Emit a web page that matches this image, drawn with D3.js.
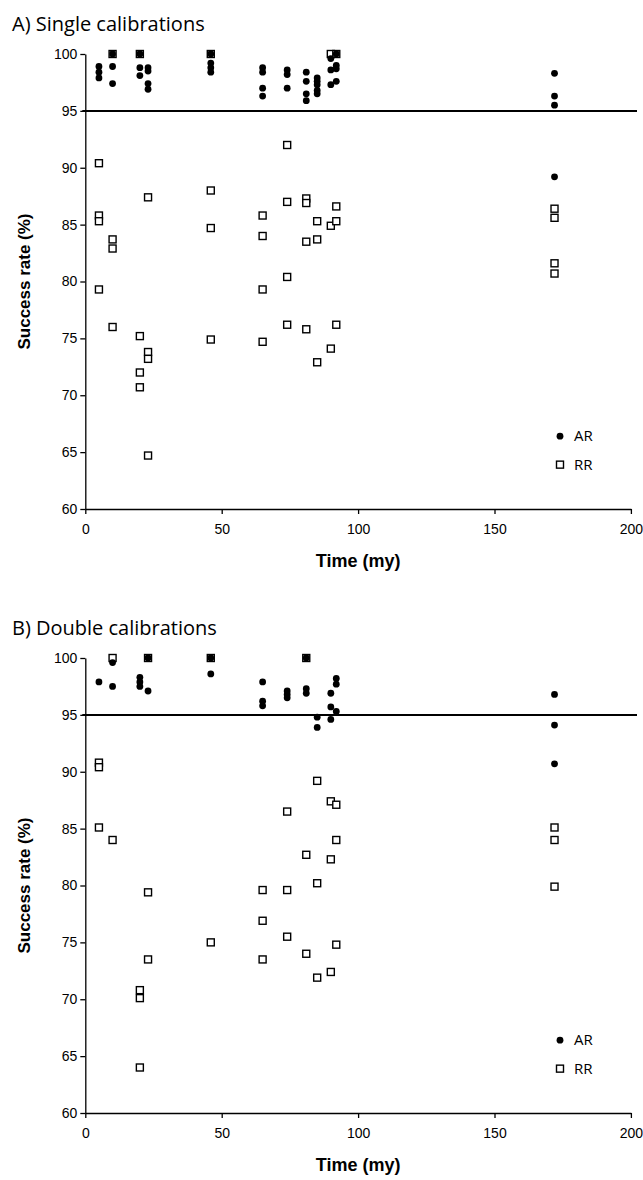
<!DOCTYPE html>
<html><head><meta charset="utf-8">
<script src="https://cdn.jsdelivr.net/npm/d3@7"></script>
<style>
html,body{margin:0;padding:0;background:#fff;}
svg{display:block;}
</style></head>
<body><svg id="chart" width="643" height="1180"></svg>
<script>
// ---- data: [time (my), success rate (%)] ----
const singleAR = [
  [5,98.9],[5,98.4],[5,97.9],
  [10,100],[10,98.9],[10,97.4],
  [20,100],[20,98.8],[20,98.1],
  [23,98.8],[23,98.5],[23,97.4],[23,96.9],
  [46,100],[46,99.2],[46,98.8],[46,98.4],
  [65,98.8],[65,98.4],[65,97.0],[65,96.3],
  [74,98.6],[74,98.2],[74,97.0],
  [81,98.4],[81,97.6],[81,96.5],[81,95.9],
  [85,97.9],[85,97.6],[85,97.3],[85,96.8],[85,96.5],
  [90,99.6],[90,98.6],[90,97.3],
  [92,100],[92,99.0],[92,98.7],[92,97.6],
  [172,98.3],[172,96.3],[172,95.5],[172,89.2]
];
const singleRR = [
  [5,90.4],[5,85.8],[5,85.3],[5,79.3],
  [10,100],[10,83.7],[10,82.9],[10,76.0],
  [20,100],[20,75.2],[20,72.0],[20,70.7],
  [23,87.4],[23,73.8],[23,73.2],[23,64.7],
  [46,100],[46,88.0],[46,84.7],[46,74.9],
  [65,85.8],[65,84.0],[65,79.3],[65,74.7],
  [74,92.0],[74,87.0],[74,80.4],[74,76.2],
  [81,87.3],[81,86.9],[81,83.5],[81,75.8],
  [85,85.3],[85,83.7],[85,72.9],
  [90,100],[90,84.9],[90,74.1],
  [92,100],[92,86.6],[92,85.3],[92,76.2],
  [172,86.4],[172,85.6],[172,81.6],[172,80.7]
];
const doubleAR = [
  [5,97.9],
  [10,99.6],[10,97.5],
  [20,98.3],[20,97.9],[20,97.5],
  [23,100],[23,97.1],
  [46,100],[46,98.6],
  [65,97.9],[65,96.2],[65,95.8],
  [74,97.1],[74,96.8],[74,96.5],
  [81,100],[81,97.3],[81,96.9],
  [85,94.8],[85,93.9],
  [90,96.9],[90,95.7],[90,94.6],
  [92,98.2],[92,97.7],[92,95.3],
  [172,96.8],[172,94.1],[172,90.7]
];
const doubleRR = [
  [5,90.8],[5,90.4],[5,85.1],
  [10,100],[10,84.0],
  [20,70.8],[20,70.1],[20,64.0],
  [23,100],[23,79.4],[23,73.5],
  [46,100],[46,75.0],
  [65,79.6],[65,76.9],[65,73.5],
  [74,86.5],[74,79.6],[74,75.5],
  [81,100],[81,82.7],[81,74.0],
  [85,89.2],[85,80.2],[85,71.9],
  [90,87.4],[90,82.3],[90,72.4],
  [92,87.1],[92,84.0],[92,74.8],
  [172,85.1],[172,84.0],[172,79.9]
];
const yTicks = [60,65,70,75,80,85,90,95,100];
const xTicks = [0,50,100,150,200];
const threshold = 95;
const panelTitles = ["A) Single calibrations","B) Double calibrations"];
const legendLabels = ["AR","RR"];
const xTitle = "Time (my)";
const yTitle = "Success rate (%)";

const svg = d3.select("#chart");
const x = d3.scaleLinear().domain([0,200]).range([85.3,630.9]);

function panel(off, title, ar, rr) {
  const g = svg.append("g").attr("transform",`translate(0,${off})`);
  const y = d3.scaleLinear().domain([60,100]).range([509,54]);

  g.append("text").attr("x",12).attr("y",31)
    .attr("font-family","'Open Sans', sans-serif").attr("font-size",20)
    .attr("fill","#000").text(title);

  const ya = g.append("g").attr("transform",`translate(${x(0)},0)`)
    .call(d3.axisLeft(y).tickValues(yTicks).tickSize(5).tickSizeOuter(0).tickPadding(3));
  ya.selectAll("text").attr("font-family","'Liberation Sans', Arial, sans-serif").attr("font-size",14).attr("fill","#000");
  ya.selectAll("line,path").attr("stroke","#000").attr("stroke-width",1.3);

  const xa = g.append("g").attr("transform",`translate(0,${y(60)})`)
    .call(d3.axisBottom(x).tickValues(xTicks).tickSize(5).tickSizeOuter(0).tickPadding(10));
  xa.selectAll("text").attr("font-family","'Liberation Sans', Arial, sans-serif").attr("font-size",14).attr("fill","#000");
  xa.selectAll("line,path").attr("stroke","#000").attr("stroke-width",1.3);

  g.append("line").attr("x1",x(0)-3).attr("x2",637)
    .attr("y1",y(threshold)).attr("y2",y(threshold))
    .attr("stroke","#000").attr("stroke-width",2);

  g.append("text").attr("x",x(100)).attr("y",567).attr("text-anchor","middle")
    .attr("font-family","'Liberation Sans', Arial, sans-serif").attr("font-weight","bold")
    .attr("font-size",18).text(xTitle);
  g.append("text").attr("transform",`translate(30,${(y(60)+y(100))/2}) rotate(-90)`)
    .attr("text-anchor","middle")
    .attr("font-family","'Liberation Sans', Arial, sans-serif").attr("font-weight","bold")
    .attr("font-size",17).text(yTitle);

  const s = 7;
  g.append("g").selectAll("rect").data(rr).join("rect")
    .attr("x",d=>x(d[0])-s/2).attr("y",d=>y(d[1])-s/2)
    .attr("width",s).attr("height",s)
    .attr("fill","#fff").attr("stroke","#000").attr("stroke-width",1.4);
  g.append("g").selectAll("circle").data(ar).join("circle")
    .attr("cx",d=>x(d[0])).attr("cy",d=>y(d[1])).attr("r",3.4).attr("fill","#000");

  // legend
  const lx = 560, legAR = y(66.4), legRR = y(63.9);
  g.append("circle").attr("cx",lx).attr("cy",legAR).attr("r",3.4).attr("fill","#000");
  g.append("text").attr("x",lx+14).attr("y",legAR+5)
    .attr("font-family","'Open Sans', sans-serif").attr("font-size",15).text(legendLabels[0]);
  g.append("rect").attr("x",lx-s/2).attr("y",legRR-s/2).attr("width",s).attr("height",s)
    .attr("fill","#fff").attr("stroke","#000").attr("stroke-width",1.4);
  g.append("text").attr("x",lx+14).attr("y",legRR+5)
    .attr("font-family","'Open Sans', sans-serif").attr("font-size",15).text(legendLabels[1]);
}

panel(0, panelTitles[0], singleAR, singleRR);
panel(604, panelTitles[1], doubleAR, doubleRR);
</script></body></html>
